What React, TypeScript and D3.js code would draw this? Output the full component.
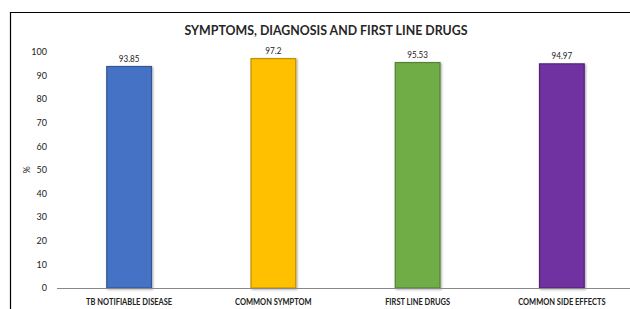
import * as d3 from "d3";
import React, { useEffect, useRef } from "react";

const categories = ["TB NOTIFIABLE DISEASE", "COMMON SYMPTOM", "FIRST LINE DRUGS", "COMMON SIDE EFFECTS"];
const values = [93.85, 97.2, 95.53, 94.97];
const valueLabels = ["93.85", "97.2", "95.53", "94.97"];
const barColors = ["#4472C4", "#FFC000", "#70AD47", "#7030A0"];
const yTicks = [0, 10, 20, 30, 40, 50, 60, 70, 80, 90, 100];

export default function App() {
  const svgRef = useRef<SVGSVGElement>(null);

  useEffect(() => {
    const svg = d3.select(svgRef.current);
    svg.selectAll("*").remove();

    const width = 630;
    const height = 309;
    const margin = { top: 52, right: -4, bottom: 21, left: 57 };
    const plotWidth = width - margin.left - margin.right;
    const plotHeight = height - margin.top - margin.bottom;
    const font = "Lato, 'Open Sans', sans-serif";

    // Frame (top and left edges visible)
    svg.append("line").attr("x1", 10).attr("x2", width).attr("y1", 12.5).attr("y2", 12.5)
      .attr("stroke", "#000").attr("stroke-width", 1.2);
    svg.append("line").attr("x1", 10.5).attr("x2", 10.5).attr("y1", 12).attr("y2", height)
      .attr("stroke", "#000").attr("stroke-width", 1.2);

    const defs = svg.append("defs");
    const filter = defs.append("filter").attr("id", "shadow")
      .attr("x", "-20%").attr("y", "-20%").attr("width", "140%").attr("height", "140%");
    filter.append("feDropShadow").attr("dx", 1).attr("dy", 1).attr("stdDeviation", 1.2)
      .attr("flood-color", "#000").attr("flood-opacity", 0.35);

    const g = svg.append("g").attr("transform", `translate(${margin.left},${margin.top})`);

    const x = d3.scaleBand().domain(categories).range([0, plotWidth]).paddingInner(0.69).paddingOuter(0.345);
    const y = d3.scaleLinear().domain([0, 100]).range([plotHeight, 0]);

    // narrow text a bit, like a condensed font
    const condense = (sel: any, k: number) => sel.each(function (this: SVGTextElement) {
      const w = this.getComputedTextLength();
      d3.select(this).attr("textLength", w * k).attr("lengthAdjust", "spacingAndGlyphs");
    });

    // Y tick labels
    g.selectAll(".ytick").data(yTicks).join("text")
      .attr("x", -10)
      .attr("y", d => y(d))
      .attr("dy", "0.35em")
      .attr("text-anchor", "end")
      .style("font-family", font)
      .style("font-size", "9px")
      .attr("fill", "#222")
      .text(d => d);

    // Bars
    g.selectAll(".bar").data(values).join("rect")
      .attr("x", (d, i) => x(categories[i])!)
      .attr("y", d => y(d))
      .attr("width", x.bandwidth())
      .attr("height", d => plotHeight - y(d))
      .attr("fill", (d, i) => barColors[i])
      .attr("stroke", (d, i) => d3.color(barColors[i])!.darker(0.8).toString())
      .attr("stroke-width", 1.2)
      .attr("filter", "url(#shadow)");

    // Value labels
    g.selectAll(".val").data(values).join("text")
      .attr("x", (d, i) => x(categories[i])! + x.bandwidth() / 2)
      .attr("y", d => y(d) - 5)
      .attr("text-anchor", "middle")
      .style("font-family", font)
      .style("font-size", "9px")
      .attr("fill", "#222")
      .text((d, i) => valueLabels[i])
      .call(condense, 0.9);

    // X axis line
    g.append("line").attr("x1", 0).attr("x2", plotWidth).attr("y1", plotHeight + 0.5).attr("y2", plotHeight + 0.5)
      .attr("stroke", "#888").attr("stroke-width", 1);

    // Category labels
    g.selectAll(".cat").data(categories).join("text")
      .attr("x", d => x(d)! + x.bandwidth() / 2)
      .attr("y", plotHeight + 17)
      .attr("text-anchor", "middle")
      .style("font-family", font)
      .style("font-size", "8.5px")
      .style("font-weight", "bold")
      .attr("fill", "#222")
      .text(d => d)
      .call(condense, 0.88);

    // Y axis label
    svg.append("text")
      .attr("transform", `translate(27,${margin.top + y(50)}) rotate(-90)`)
      .attr("text-anchor", "middle")
      .attr("dy", "0.35em")
      .style("font-family", font)
      .style("font-size", "9px")
      .attr("fill", "#222")
      .text("%");

    // Title
    svg.append("text")
      .attr("x", 326)
      .attr("y", 35)
      .attr("text-anchor", "middle")
      .style("font-family", font)
      .style("font-size", "14px")
      .style("font-weight", "bold")
      .attr("fill", "#262626")
      .attr("textLength", 283)
      .attr("lengthAdjust", "spacingAndGlyphs")
      .text("SYMPTOMS, DIAGNOSIS AND FIRST LINE DRUGS");
  }, []);

  return (
    <svg ref={svgRef} width={630} height={309}
      style={{ position: "absolute", left: 0, top: 0, background: "#fff" }} />
  );
}
